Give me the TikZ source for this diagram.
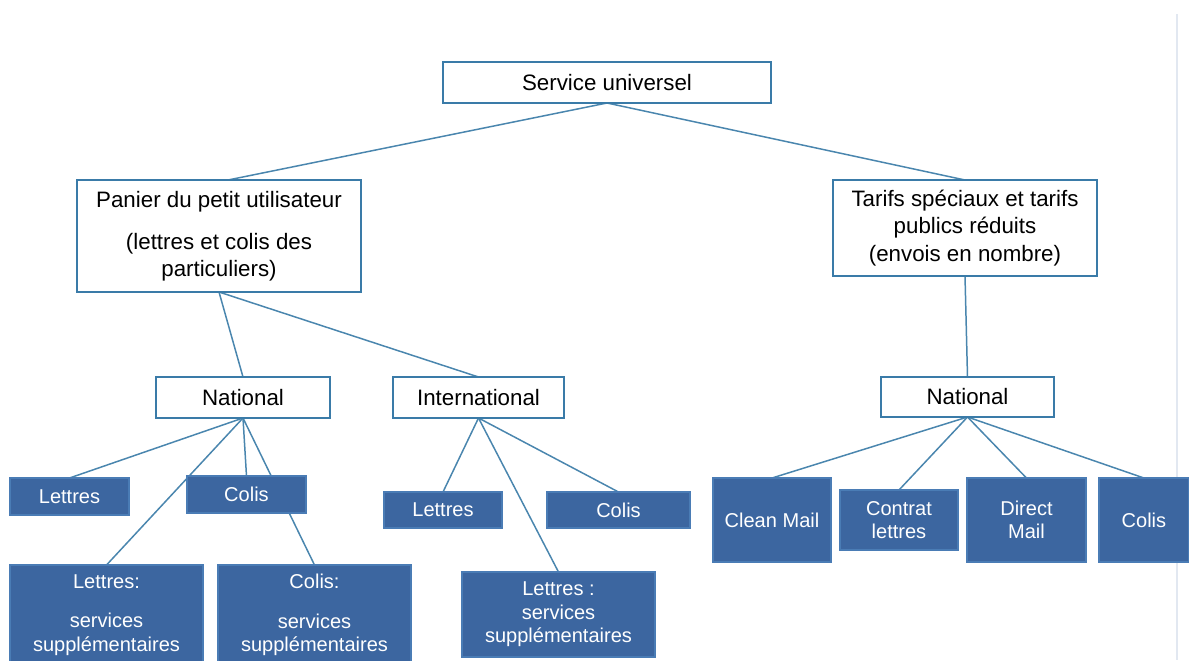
\documentclass[tikz,border=0pt]{standalone}
\usepackage{fontspec}
\setmainfont{Liberation Sans}
\usepackage{xcolor}
\usetikzlibrary{positioning,backgrounds}
\definecolor{edgeblue}{HTML}{3A7BA8}
\definecolor{lineblue}{HTML}{4A86AE}
\definecolor{fillblue}{HTML}{3C66A0}
\definecolor{rimblue}{HTML}{4A7CB5}
\definecolor{pageline}{HTML}{E2E8F1}
\tikzset{
  whitebox/.style={draw=edgeblue, line width=0.75pt, fill=white, inner sep=0pt,
    outer sep=0pt, align=center, font=\fontsize{12.7}{15.5}\selectfont},
  darkbox/.style={draw=rimblue, line width=0.75pt, fill=fillblue, text=white,
    inner sep=0pt, outer sep=0pt, align=center,
    font=\fontsize{11.4}{13.4}\selectfont},
  link/.style={draw=lineblue, line width=0.85pt},
}
\begin{document}
\begin{tikzpicture}[x=0.02cm, y=-0.02cm]
  \useasboundingbox (0,0) rectangle (1189,660);

  % top levels
  \node[whitebox, minimum width=6.56cm, minimum height=0.82cm] (root)
    at (607,82.5) {Service universel};
  \node[whitebox, minimum width=5.68cm, minimum height=2.24cm] (panier)
    at (219,236) {Panier du petit utilisateur\\[8.4pt]
    (lettres et colis des\\particuliers)};
  \node[whitebox, minimum width=5.28cm, minimum height=1.92cm] (tarifs)
    at (965,228) {Tarifs sp\'eciaux et tarifs\\publics r\'eduits\\
    (envois en nombre)};

  \node[whitebox, minimum width=3.48cm, minimum height=0.82cm] (natl)
    at (243,397.5) {National};
  \node[whitebox, minimum width=3.42cm, minimum height=0.82cm] (intl)
    at (478.5,397.5) {International};
  \node[whitebox, minimum width=3.46cm, minimum height=0.8cm] (natr)
    at (967.5,397) {National};

  % national (petit utilisateur)
  \node[darkbox, minimum width=2.38cm, minimum height=0.74cm] (lettA)
    at (69.5,496.5) {Lettres};
  \node[darkbox, minimum width=2.38cm, minimum height=0.74cm] (colisA)
    at (246.5,494.5) {Colis};
  \node[darkbox, minimum width=3.86cm, minimum height=2cm] (servlettA)
    at (106.5,615) {Lettres:\\[9pt]services\\suppl\'ementaires};
  \node[darkbox, minimum width=3.86cm, minimum height=2cm] (servcolisA)
    at (314.5,615) {Colis:\\[9pt]services\\suppl\'ementaires};

  % international
  \node[darkbox, minimum width=2.36cm, minimum height=0.72cm] (lettB)
    at (443,510) {Lettres};
  \node[darkbox, minimum width=2.86cm, minimum height=0.72cm] (colisB)
    at (618.5,510) {Colis};
  \node[darkbox, minimum width=3.86cm, minimum height=1.7cm] (servlettB)
    at (558.5,614.5) {Lettres :\\services\\suppl\'ementaires};

  % national (envois en nombre)
  \node[darkbox, minimum width=2.36cm, minimum height=1.68cm] (clean)
    at (772,520) {Clean Mail};
  \node[darkbox, minimum width=2.36cm, minimum height=1.2cm,
    right=0.18cm of clean] (contrat) {Contrat\\lettres};
  \node[darkbox, minimum width=2.38cm, minimum height=1.68cm,
    right=0.18cm of contrat] (direct) {Direct\\Mail};
  \node[darkbox, minimum width=1.8cm, minimum height=1.68cm,
    right=0.26cm of direct] (colisC) {Colis};

  \begin{scope}[on background layer]
    \draw[pageline, line width=0.8pt] (1177,14) -- (1177,660);
    \draw[link] (root.south) -- ([xshift=0.18cm]panier.north);
    \draw[link] (root.south) -- (tarifs.north);
    \draw[link] (panier.south) -- (natl.north);
    \draw[link] (panier.south) -- (intl.north);
    \draw[link] (tarifs.south) -- (natr.north);
    \foreach \child in {lettA, colisA, servlettA, servcolisA}
      \draw[link] (natl.south) -- (\child.north);
    \foreach \child in {lettB, colisB, servlettB}
      \draw[link] (intl.south) -- (\child.north);
    \foreach \child in {clean, contrat, direct, colisC}
      \draw[link] (natr.south) -- (\child.north);
  \end{scope}
\end{tikzpicture}
\end{document}
